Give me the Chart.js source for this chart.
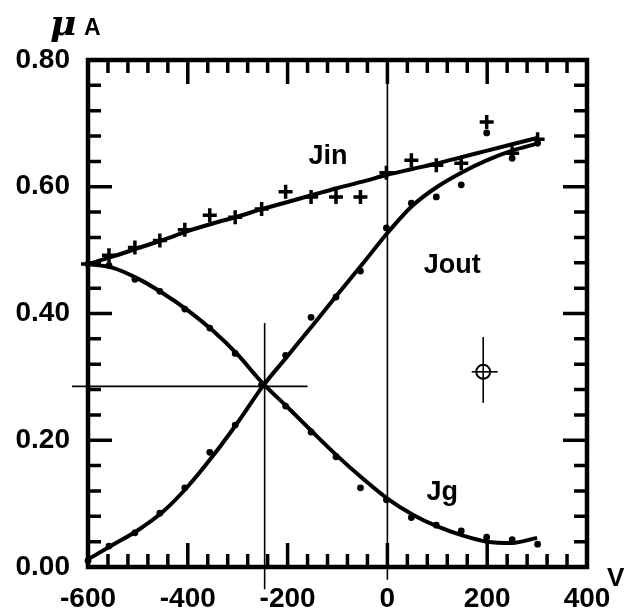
<!DOCTYPE html>
<html>
<head>
<meta charset="utf-8">
<script src="https://cdn.jsdelivr.net/npm/chart.js@4.4.0/dist/chart.umd.min.js"></script>
<style>
  html, body { margin: 0; padding: 0; background: #fff; }
  #wrap { width: 629px; height: 611px; }
</style>
</head>
<body>
<div id="wrap"><canvas id="currents"></canvas></div>
<script>
// measured points (bias voltage, V) and currents (uA)
const biasV = [-600, -558, -506, -456, -406, -356, -305, -252, -204, -153, -103, -54, -2, 48, 98, 148, 199, 250, 301];
const jinPts = [0.478, 0.492, 0.504, 0.515, 0.532, 0.555, 0.552, 0.565, 0.592, 0.584, 0.584, 0.584, 0.622, 0.642, 0.634, 0.637, 0.702, 0.653, 0.675];
const joutPts = [0.010, 0.033, 0.054, 0.085, 0.125, 0.181, 0.224, 0.287, 0.334, 0.394, 0.426, 0.467, 0.535, 0.574, 0.584, 0.603, 0.685, 0.645, 0.669];
const jgPts = [0.478, 0.476, 0.454, 0.435, 0.407, 0.377, 0.337, 0.287, 0.254, 0.213, 0.174, 0.125, 0.106, 0.078, 0.066, 0.057, 0.047, 0.043, 0.036];

// fitted curves
const fitV = [-600, -550, -500, -450, -400, -350, -300, -250, -200, -150, -100, -50, 0, 50, 100, 150, 200, 250, 300];
const jinFit = [0.478, 0.490, 0.503, 0.516, 0.530, 0.542, 0.553, 0.565, 0.576, 0.587, 0.598, 0.608, 0.619, 0.628, 0.637, 0.647, 0.657, 0.667, 0.677];
const joutFit = [0.012, 0.035, 0.058, 0.087, 0.127, 0.175, 0.228, 0.285, 0.333, 0.381, 0.430, 0.478, 0.527, 0.570, 0.600, 0.623, 0.642, 0.657, 0.668];
const jgFit = [0.478, 0.472, 0.455, 0.432, 0.405, 0.373, 0.335, 0.290, 0.252, 0.213, 0.175, 0.140, 0.108, 0.083, 0.064, 0.050, 0.040, 0.038, 0.046];

// crossing point of Jout and Jg, and the error-bar symbol
const crossV = -246;
const crossJ = 0.285;
const errV = 192, errJ = 0.308;
const errVRange = [169, 221];
const errJRange = [0.259, 0.363];

const curveLabels = [
  { text: 'Jin', v: -119, j: 0.648 },
  { text: 'Jout', v: 130, j: 0.475 },
  { text: 'Jg', v: 110, j: 0.117 }
];

function pairs(xs, ys) {
  return xs.map((x, i) => ({ x: x, y: ys[i] }));
}

function fitLine(data) {
  return {
    data: data,
    borderColor: '#000',
    borderWidth: 4,
    pointRadius: 0,
    cubicInterpolationMode: 'monotone',
    clip: false
  };
}

function thinLine(data) {
  return {
    data: data,
    borderColor: '#000',
    borderWidth: 1.6,
    pointRadius: 0,
    clip: false
  };
}

function dots(data) {
  return {
    data: data,
    showLine: false,
    pointStyle: 'circle',
    pointRadius: 3.4,
    pointBackgroundColor: '#000',
    pointBorderColor: '#000',
    pointBorderWidth: 0,
    clip: false
  };
}

// inward ticks, heavy frame and free text
const framePlugin = {
  id: 'frame',
  afterDatasetsDraw(chart) {
    const { ctx, chartArea: a, scales: { x, y } } = chart;
    ctx.save();
    ctx.strokeStyle = '#000';
    ctx.lineCap = 'butt';
    ctx.lineWidth = 3.5;
    const major = 24, minor = 13;
    for (let i = 1; i < 25; i++) {
      const px = x.getPixelForValue(-600 + 40 * i);
      const len = i % 5 === 0 ? major : minor;
      ctx.beginPath();
      ctx.moveTo(px, a.bottom); ctx.lineTo(px, a.bottom - len);
      ctx.moveTo(px, a.top); ctx.lineTo(px, a.top + len);
      ctx.stroke();
    }
    for (let i = 1; i < 20; i++) {
      const py = y.getPixelForValue(0.04 * i);
      const len = i % 5 === 0 ? major : minor;
      ctx.beginPath();
      ctx.moveTo(a.left, py); ctx.lineTo(a.left + len, py);
      ctx.moveTo(a.right, py); ctx.lineTo(a.right - len, py);
      ctx.stroke();
    }
    ctx.lineWidth = 4.5;
    ctx.strokeRect(a.left, a.top, a.right - a.left, a.bottom - a.top);

    ctx.fillStyle = '#000';
    ctx.textAlign = 'center';
    ctx.textBaseline = 'middle';
    ctx.font = 'bold 27px "Liberation Sans", Arial, sans-serif';
    curveLabels.forEach(l => {
      ctx.fillText(l.text, x.getPixelForValue(l.v), y.getPixelForValue(l.j));
    });

    ctx.textAlign = 'left';
    ctx.textBaseline = 'alphabetic';
    ctx.font = 'italic bold 36px "DejaVu Serif", serif';
    ctx.fillText('\u03bc', a.left - 38, a.top - 25);
    ctx.font = 'bold 23px "Liberation Sans", Arial, sans-serif';
    ctx.fillText('A', a.left - 4, a.top - 25);
    ctx.font = 'bold 26px "Liberation Sans", Arial, sans-serif';
    ctx.fillText('V', a.right + 20, a.bottom + 19);
    ctx.restore();
  }
};

const tickFont = { family: '"Liberation Sans", Arial, sans-serif', size: 28, weight: 'bold' };

new Chart(document.getElementById('currents'), {
  type: 'line',
  data: {
    datasets: [
      thinLine([{ x: 0, y: 0.8 }, { x: 0, y: -0.02 }]),
      thinLine([{ x: -632, y: crossJ }, { x: -160, y: crossJ }]),
      thinLine([{ x: crossV, y: 0.385 }, { x: crossV, y: -0.035 }]),
      thinLine([{ x: errV, y: errJRange[0] }, { x: errV, y: errJRange[1] }]),
      thinLine([{ x: errVRange[0], y: errJ }, { x: errVRange[1], y: errJ }]),
      {
        data: [{ x: errV, y: errJ }],
        showLine: false,
        pointStyle: 'circle',
        pointRadius: 7,
        pointBorderWidth: 2,
        pointBorderColor: '#000',
        pointBackgroundColor: 'rgba(0,0,0,0)',
        clip: false
      },
      fitLine(pairs(fitV, jinFit)),
      fitLine(pairs(fitV, joutFit)),
      fitLine(pairs(fitV, jgFit)),
      {
        data: pairs(biasV, jinPts),
        showLine: false,
        pointStyle: 'cross',
        pointRadius: 7,
        pointBorderWidth: 3.5,
        pointBorderColor: '#000',
        clip: false
      },
      dots(pairs(biasV, joutPts)),
      dots(pairs(biasV, jgPts))
    ]
  },
  options: {
    responsive: true,
    maintainAspectRatio: false,
    animation: false,
    events: [],
    layout: { padding: { top: 60, right: 42, left: 0, bottom: 0 } },
    plugins: { legend: { display: false }, tooltip: { enabled: false } },
    scales: {
      x: {
        type: 'linear',
        min: -600,
        max: 400,
        grid: { display: false, drawTicks: false },
        border: { display: false },
        ticks: {
          stepSize: 200,
          color: '#000',
          font: tickFont,
          padding: 15,
          maxRotation: 0,
          callback: v => String(v)
        },
        afterFit: s => { s.height = 44; }
      },
      y: {
        min: 0,
        max: 0.8,
        grid: { display: false, drawTicks: false },
        border: { display: false },
        ticks: {
          stepSize: 0.2,
          color: '#000',
          font: tickFont,
          padding: 18,
          callback: v => v.toFixed(2)
        },
        afterFit: s => { s.width = 88; }
      }
    }
  },
  plugins: [framePlugin]
});
</script>
</body>
</html>
